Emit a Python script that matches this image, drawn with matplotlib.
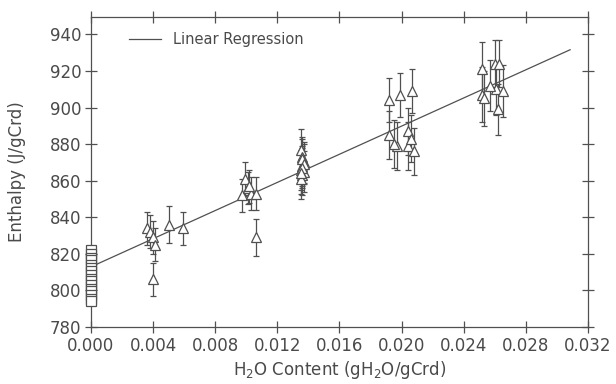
import numpy as np
import matplotlib
matplotlib.use('Agg')
import matplotlib.pyplot as plt

# pure Cr sample (no water) - open squares at x = 0
dry_y = [822, 820, 818, 816.5, 814, 812, 810.5, 808.5, 806.5, 805, 803, 801, 799.5, 797.5, 795.5, 794]

# hydrated samples - triangles with error bars
wet_x = [0.0036, 0.0038, 0.0040, 0.0041, 0.0040, 0.0050, 0.0059,
         0.0099, 0.0097, 0.0101, 0.0103, 0.0106, 0.0106, 0.0102,
         0.0135, 0.0136, 0.0137, 0.0136, 0.0135, 0.0137, 0.0136, 0.0135, 0.0136, 0.0137, 0.0136, 0.0135,
         0.0192, 0.0199, 0.0207, 0.0192, 0.0197, 0.0204, 0.0204, 0.0208, 0.0195, 0.0206,
         0.0252, 0.0252, 0.0253, 0.0260, 0.0263, 0.0261, 0.0265, 0.0262, 0.0257]
wet_y = [834, 832, 829, 825, 806, 836, 834,
         861, 852, 856, 853, 853, 829, 857,
         877, 873, 870, 868, 866, 865, 863, 861, 872, 869, 867, 864,
         904, 907, 909, 885, 879, 887, 879, 876, 880, 883,
         921, 907, 905, 924, 924, 910, 909, 899, 912]
wet_err = [9, 9, 9, 9, 9, 10, 9,
           9, 9, 9, 9, 9, 10, 9,
           11, 11, 11, 11, 11, 11, 11, 11, 11, 11, 11, 11,
           12, 12, 12, 13, 13, 13, 13, 13, 13, 13,
           15, 15, 15, 13, 13, 14, 14, 14, 14]

# regression line end points
reg_x = [0.0, 0.03085]
reg_y = [812.9, 931.6]

gray = '#505050'
txt = '#4a4a4a'
plt.rcParams['font.family'] = 'DejaVu Sans'

fig = plt.figure(figsize=(6.16, 3.84), dpi=100)
ax = fig.add_axes([0.1477, 0.1484, 0.9545 - 0.1477, 0.9557 - 0.1484])

ax.plot(reg_x, reg_y, color=gray, lw=0.9, label='Linear Regression', zorder=2)
ax.errorbar(wet_x, wet_y, yerr=wet_err, fmt='^', mfc='white', mec=gray, ecolor=gray,
            ms=7.5, mew=0.9, elinewidth=0.9, capsize=2.5, capthick=0.9, zorder=3)
ax.plot(np.zeros(len(dry_y)), dry_y, 's', mfc='white', mec=gray, ms=7.5, mew=0.9,
        clip_on=False, zorder=4)

ax.set_xlim(0, 0.032)
ax.set_ylim(780, 949.5)
ax.set_xticks(np.arange(0, 0.0321, 0.004))
ax.set_yticks(np.arange(780, 941, 20))
ax.xaxis.set_major_formatter(matplotlib.ticker.FormatStrFormatter('%.3f'))

ax.tick_params(direction='inout', length=8, width=0.9, color=gray, labelcolor=txt,
               labelsize=12, top=True, right=True, pad=3)
for s in ax.spines.values():
    s.set_color(gray)
    s.set_linewidth(0.9)

ax.set_xlabel(r'H$_2$O Content (gH$_2$O/gCrd)', fontsize=12, color=txt, labelpad=3)
ax.set_ylabel('Enthalpy (J/gCrd)', fontsize=12, color=txt, labelpad=17)

leg = ax.legend(loc='upper left', frameon=False, fontsize=10.5, handlelength=2.2,
                bbox_to_anchor=(0.05, 0.995), labelcolor=txt)

fig.savefig('out.png', dpi=100)
